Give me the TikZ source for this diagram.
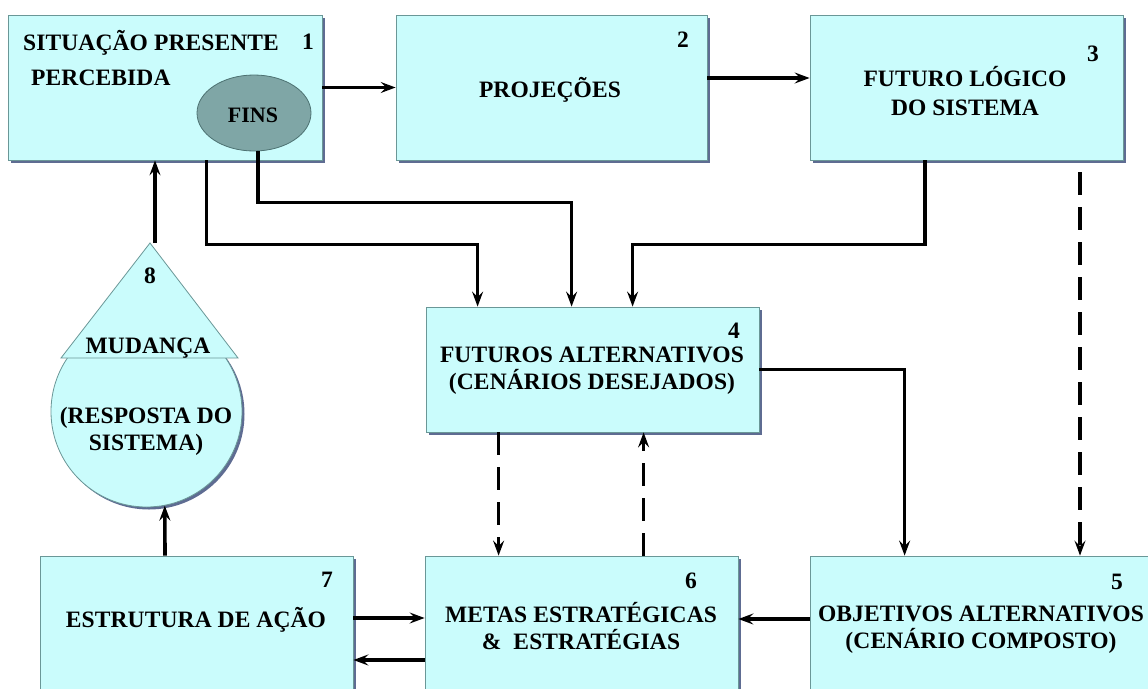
\documentclass[tikz,border=0pt]{standalone}
\usepackage{fontspec}
\newfontfamily\lblfont{Liberation Serif}[LetterSpace=0.5]
\usetikzlibrary{arrows.meta,shadows,shapes.geometric}

\definecolor{boxfill}{HTML}{CAFCFC}
\definecolor{boxline}{HTML}{6A9797}
\definecolor{shadowc}{HTML}{5E6C92}
\definecolor{finsfill}{HTML}{7FA6A6}
\definecolor{finsline}{HTML}{4D7272}

\tikzset{
  box/.style={rectangle, draw=boxline, line width=0.8pt, fill=boxfill, inner sep=0pt,
    drop shadow={shadow xshift=3pt, shadow yshift=-3pt, fill=shadowc, opacity=1}},
  lbl/.style={font=\lblfont\bfseries\fontsize{23.5}{27}\selectfont, inner sep=0pt, text=black},
  arr/.style={line width=3.6pt, -{Stealth[length=15pt, width=11pt, inset=5.5pt]}},
  dasharr/.style={arr, dash pattern=on 23pt off 12pt},
}

\begin{document}
\begin{tikzpicture}[x=1pt, y=-1pt]
  \useasboundingbox (0,0) rectangle (1148,688);
  \fill[white] (0,0) rectangle (1148,688);
  \clip (0,0) rectangle (1148,688);

  % top row
  \node[box, minimum width=314, minimum height=145] (b1) at (165,87.5) {};
  \node[box, minimum width=311, minimum height=145] (b2) at (551.5,87.5) {};
  \node[box, minimum width=313, minimum height=145] (b3) at (966.5,87.5) {};
  % middle
  \node[box, minimum width=333, minimum height=125] (b4) at (592.5,369.5) {};
  % bottom row
  \node[box, minimum width=313, minimum height=146] (b7) at (196.5,629) {};
  \node[box, minimum width=313, minimum height=146] (b6) at (581.5,629) {};
  \node[box, minimum width=355, minimum height=146] (b5) at (987.5,629) {};

  % ends inside box 1
  \node[ellipse, draw=finsline, line width=0.8pt, fill=finsfill,
        minimum width=114, minimum height=76, inner sep=0pt] (fins) at (254,113) {};
  \node[lbl, font=\lblfont\bfseries\fontsize{22}{27}\selectfont] (tfins) at (253,115) {FINS};

  % change: drop shaped figure
  \node[circle, draw=boxline, line width=0.8pt, fill=boxfill, minimum size=191, inner sep=0pt,
        drop shadow={shadow xshift=2.5pt, shadow yshift=-2.5pt, fill=shadowc, opacity=1}] (drop) at (146.5,411.5) {};
  \coordinate (tip) at (150,243);
  \coordinate (tl) at (61,358);
  \coordinate (tr) at (238,358);
  \filldraw[fill=boxfill, draw=boxline, line width=0.8pt] (tip) -- (tl) -- (tr) -- cycle;

  % texts
  \node[lbl, anchor=west, align=left] (t1) at (23,58) {SITUAÇÃO PRESENTE\\[8pt]\hspace*{8pt}PERCEBIDA};
  \node[lbl] (n1) at (308,42) {1};
  \node[lbl] (t2) at (550,90) {PROJEÇÕES};
  \node[lbl] (n2) at (683,40) {2};
  \node[lbl, align=center] (t3) at (965,91) {FUTURO LÓGICO\\[2pt]DO SISTEMA};
  \node[lbl] (n3) at (1093,54) {3};
  \node[lbl, align=center] (t4) at (592,371) {FUTUROS ALTERNATIVOS\\(CENÁRIOS DESEJADOS)};
  \node[lbl] (n4) at (734,331) {4};
  \node[lbl, align=center] (t5) at (981,630) {OBJETIVOS ALTERNATIVOS\\(CENÁRIO COMPOSTO)};
  \node[lbl] (n5) at (1117,582) {5};
  \node[lbl, align=center] (t6) at (581,626) {METAS ESTRATÉGICAS\\\&\hspace{12pt}ESTRATÉGIAS};
  \node[lbl] (n6) at (691,581) {6};
  \node[lbl] (t7) at (196,620) {ESTRUTURA DE AÇÃO};
  \node[lbl] (n7) at (327,580) {7};
  \node[lbl] (n8) at (150,276) {8};
  \node[lbl] (t8a) at (148,348) {MUDANÇA};
  \node[lbl, align=center] (t8b) at (146,431) {(RESPOSTA DO\\SISTEMA)};

  % connectors
  \draw[arr] (b1.east) -- (b2.west);
  \draw[arr] ([yshift=9.5]b2.east) -- ([yshift=9.5]b3.west);
  \draw[arr] ([xshift=199]b1.south west) -- ++(0,84) -| ([xshift=52]b4.north west);
  \draw[arr] ([xshift=4]fins.south) -- ++(0,51) -| ([xshift=146]b4.north west);
  \draw[arr] ([xshift=-41.5]b3.south) -- ++(0,84) -| ([xshift=207]b4.north west);
  \draw[dasharr, dash phase=23pt] ([xshift=113.5]b3.south) coordinate (d3) -- (d3 |- b5.north);
  \draw[arr] (b4.east) -| ([xshift=95]b5.north west);
  \draw[dasharr] ([xshift=73]b4.south west) coordinate (d4) -- (d4 |- b6.north);
  \draw[dasharr] ([xshift=219]b6.north west) coordinate (d6) -- (d6 |- b4.south);
  \draw[arr] ([yshift=11]b7.east) -- ([yshift=11]b6.west);
  \draw[arr] ([yshift=-31]b6.west) -- ([yshift=-31]b7.east);
  \draw[arr] ([yshift=10]b5.west) -- ([yshift=10]b6.east);
  \draw[arr] ([xshift=-31.5]b7.north) -- (drop.-79);
  \draw[arr] ([xshift=5]tip) coordinate (t8) -- (t8 |- b1.south);
\end{tikzpicture}
\end{document}
